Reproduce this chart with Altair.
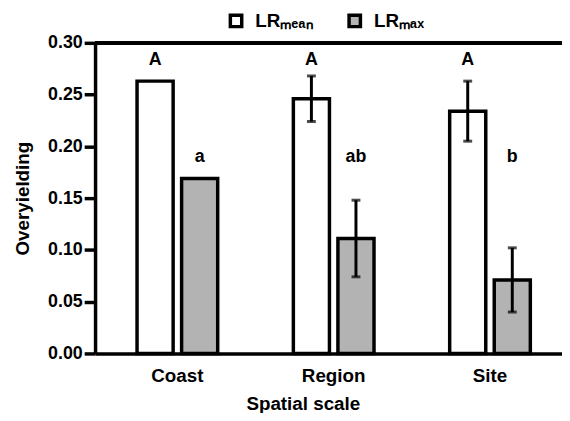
import altair as alt
import pandas as pd

# ---- data ----
scales = ["Coast", "Region", "Site"]
metrics = ["LRₘₑₐₙ", "LRₘₐₓ"]
lr_mean = [0.263, 0.246, 0.234]
lr_mean_err = [None, 0.022, 0.029]
lr_max = [0.169, 0.111, 0.071]
lr_max_err = [None, 0.037, 0.031]
mean_letters = ["A", "A", "A"]
max_letters = ["a", "ab", "b"]
y_ticks = [0.0, 0.05, 0.10, 0.15, 0.20, 0.25, 0.30]

rows = []
for i, s in enumerate(scales):
    rows.append(dict(scale=s, metric=metrics[0], value=lr_mean[i], err=lr_mean_err[i], letter=mean_letters[i]))
    rows.append(dict(scale=s, metric=metrics[1], value=lr_max[i], err=lr_max_err[i], letter=max_letters[i]))
df = pd.DataFrame(rows)

FONT = "Liberation Sans"
LW = 3.5

x_enc = alt.X(
    "scale:N", sort=scales,
    scale=alt.Scale(paddingInner=0.484, paddingOuter=0.2356, align=0.57),
    axis=alt.Axis(
        title="Spatial scale", labelAngle=0, ticks=False, labelPadding=13,
        labelFontSize=19, labelFont=FONT, labelFontWeight="bold", labelColor="black",
        domainColor="black", domainWidth=LW,
        titleFontSize=19, titleFont=FONT, titleFontWeight="bold", titleColor="black",
        titleBaseline="alphabetic", titleY=57, titleX=210, titleAlign="center",
    ),
)
xo_enc = alt.XOffset("metric:N", sort=metrics, scale=alt.Scale(paddingInner=0.19, paddingOuter=0))
y_scale = alt.Scale(domain=[0, 0.3], nice=False, zero=True)

base = alt.Chart(df)

bars = base.mark_bar(stroke="black", strokeWidth=LW).encode(
    x=x_enc,
    xOffset=xo_enc,
    y=alt.Y(
        "value:Q", scale=y_scale,
        axis=alt.Axis(
            title="Overyielding", values=y_ticks, format=".2f", grid=False,
            tickSize=11, tickWidth=LW, tickColor="black", labelPadding=2,
            labelFontSize=18, labelFont=FONT, labelFontWeight="bold", labelColor="black",
            domainColor="black", domainWidth=LW,
            titleFontSize=19, titleFont=FONT, titleFontWeight="bold", titleColor="black",
            titleBaseline="bottom", titleX=-63, titleY=157, titleAngle=270, titleAlign="center",
        ),
    ),
    fill=alt.Fill(
        "metric:N",
        scale=alt.Scale(domain=metrics, range=["white", "#b3b3b3"]),
        legend=alt.Legend(
            title=None, orient="none", direction="horizontal", legendX=133, legendY=-32,
            symbolType="square", symbolSize=132, symbolStrokeColor="black",
            symbolStrokeWidth=LW, symbolOpacity=1,
            labelFontSize=19, labelFont=FONT, labelFontWeight="bold", labelColor="black",
            labelOffset=10, columnPadding=27, padding=0,
        ),
    ),
)

err_df = base.transform_filter("isValid(datum.err)").transform_calculate(
    lo="datum.value - datum.err", hi="datum.value + datum.err"
)

err_rule = err_df.mark_rule(color="black", strokeWidth=3).encode(
    x=alt.X("scale:N", sort=scales), xOffset=alt.XOffset("metric:N", sort=metrics),
    y=alt.Y("lo:Q"), y2="hi:Q",
)
cap_lo = err_df.mark_tick(color="black", thickness=3, size=9).encode(
    x=alt.X("scale:N", sort=scales), xOffset=alt.XOffset("metric:N", sort=metrics),
    y=alt.Y("lo:Q"),
)
cap_hi = err_df.mark_tick(color="black", thickness=3, size=9).encode(
    x=alt.X("scale:N", sort=scales), xOffset=alt.XOffset("metric:N", sort=metrics),
    y=alt.Y("hi:Q"),
)

letters = base.transform_calculate(
    ly=f"datum.metric == '{metrics[0]}' ? 0.279 : 0.185"
).mark_text(
    font=FONT, fontSize=18, fontWeight="bold", color="black", baseline="alphabetic", align="center"
).encode(
    x=alt.X("scale:N", sort=scales), xOffset=alt.XOffset("metric:N", sort=metrics),
    y=alt.Y("ly:Q"), text="letter:N",
)

top_line = alt.Chart(df).mark_rule(color="black", strokeWidth=LW).encode(
    y=alt.datum(0.3)
)

chart = alt.layer(bars, err_rule, cap_lo, cap_hi, letters, top_line).resolve_scale(
    x="shared", y="shared"
).properties(
    width=472, height=314,
    padding={"left": 88, "top": 33, "right": 0, "bottom": 58},
    autosize=alt.AutoSizeParams(type="none"),
).configure_view(stroke=None).configure(background="white")

chart.save("out.html", embed_options={"renderer": "svg", "actions": False})
